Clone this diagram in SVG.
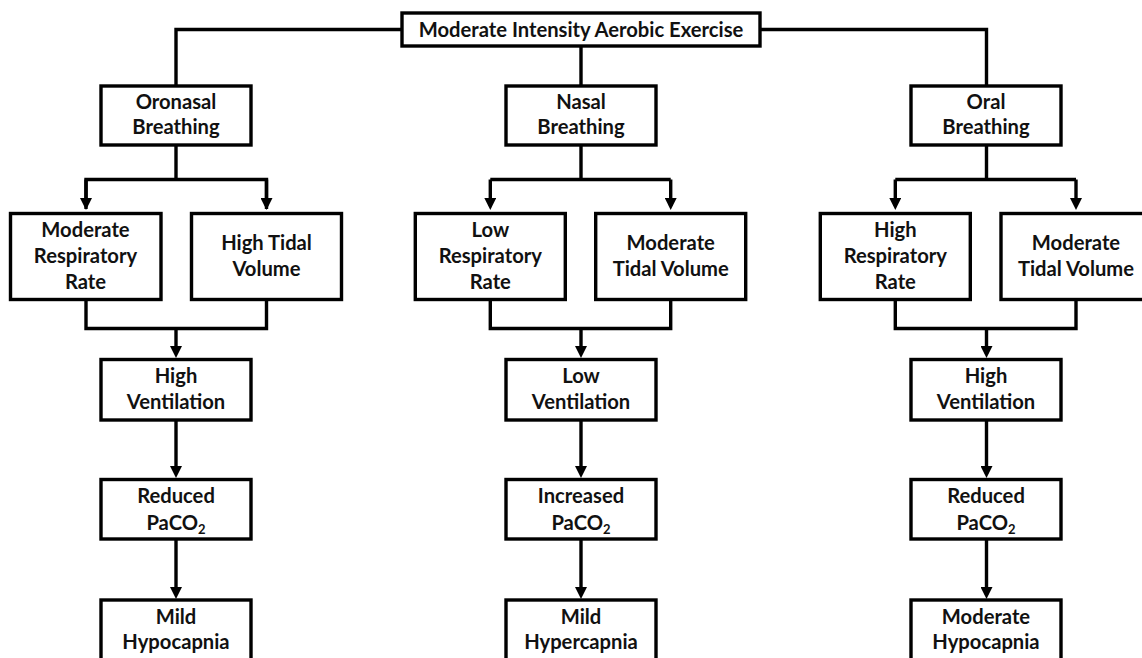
<svg xmlns="http://www.w3.org/2000/svg" width="1142" height="658" viewBox="0 0 1142 658">
<defs>
<marker id="ah" markerUnits="userSpaceOnUse" markerWidth="12" markerHeight="12" refX="8" refY="6" orient="auto"><path d="M0,0 L12,6 L0,12 z" fill="#000"/></marker>
<style>
.box{fill:#fff;stroke:#000;stroke-width:3.4}
.c{fill:none;stroke:#000;stroke-width:3.4}
.a{fill:none;stroke:#000;stroke-width:3.4;marker-end:url(#ah)}
text{font-family:Lato,"Open Sans",sans-serif;font-weight:bold;font-size:20.2px;fill:#111;text-anchor:middle}
.sub{font-size:13px}
</style>
</defs>
<rect width="1142" height="658" fill="#fff"/>
<g id="connectors">
<path class="c" d="M176,86 V29.5 H402 M760,29.5 H986.5 V86 M581,46 V86"/>
<path class="c" d="M176,145 V179.5 M86,209 V179.5 H266.5 V209"/>
<path class="a" d="M86,179.5 V206"/>
<path class="a" d="M266.5,179.5 V206"/>
<path class="c" d="M581,145 V179.5 M490.3,179.5 H670.7"/>
<path class="a" d="M490.3,179.5 V206"/>
<path class="a" d="M670.7,179.5 V206"/>
<path class="c" d="M986.5,145 V179.5 M895.3,179.5 H1076"/>
<path class="a" d="M895.3,179.5 V206"/>
<path class="a" d="M1076,179.5 V206"/>
<path class="c" d="M86,299 V328.5 H266.5 V299"/>
<path class="a" d="M176,328.5 V354"/>
<path class="c" d="M490.3,299 V328.5 H670.7 V299"/>
<path class="a" d="M581,328.5 V354"/>
<path class="c" d="M895.3,299 V328.5 H1076 V299"/>
<path class="a" d="M986.5,328.5 V354"/>
<path class="a" d="M176,420 V474"/>
<path class="a" d="M581,420 V474"/>
<path class="a" d="M986.5,420 V474"/>
<path class="a" d="M176,539 V595"/>
<path class="a" d="M581,539 V595"/>
<path class="a" d="M986.5,539 V595"/>
</g>
<g id="top"><rect class="box" x="402" y="13" width="358" height="33"/><text x="581" y="36.5">Moderate Intensity Aerobic Exercise</text></g>
<g id="oronasal"><rect class="box" x="101" y="86" width="150" height="59"/><text x="176" y="109">Oronasal</text><text x="176" y="134">Breathing</text></g>
<g id="nasal"><rect class="box" x="506" y="86" width="150" height="59"/><text x="581" y="109">Nasal</text><text x="581" y="134">Breathing</text></g>
<g id="oral"><rect class="box" x="911" y="86" width="150" height="59"/><text x="986" y="109">Oral</text><text x="986" y="134">Breathing</text></g>
<g id="l-rr"><rect class="box" x="10.5" y="213.5" width="150.5" height="86"/><text x="85.5" y="237">Moderate</text><text x="85.5" y="263">Respiratory</text><text x="85.5" y="289">Rate</text></g>
<g id="l-tv"><rect class="box" x="191.5" y="213.5" width="150" height="86"/><text x="266.5" y="250">High Tidal</text><text x="266.5" y="276">Volume</text></g>
<g id="m-rr"><rect class="box" x="415.3" y="213.5" width="150" height="86"/><text x="490.3" y="237">Low</text><text x="490.3" y="263">Respiratory</text><text x="490.3" y="289">Rate</text></g>
<g id="m-tv"><rect class="box" x="595.7" y="213.5" width="150" height="86"/><text x="670.7" y="250">Moderate</text><text x="670.7" y="276">Tidal Volume</text></g>
<g id="r-rr"><rect class="box" x="820.3" y="213.5" width="150" height="86"/><text x="895.3" y="237">High</text><text x="895.3" y="263">Respiratory</text><text x="895.3" y="289">Rate</text></g>
<g id="r-tv"><rect class="box" x="1001" y="213.5" width="150" height="86"/><text x="1076" y="250">Moderate</text><text x="1076" y="276">Tidal Volume</text></g>
<g id="l-vent"><rect class="box" x="101" y="359.5" width="150" height="60.5"/><text x="176" y="383">High</text><text x="176" y="409">Ventilation</text></g>
<g id="m-vent"><rect class="box" x="506" y="359.5" width="150" height="60.5"/><text x="581" y="383">Low</text><text x="581" y="409">Ventilation</text></g>
<g id="r-vent"><rect class="box" x="911" y="359.5" width="150" height="60.5"/><text x="986" y="383">High</text><text x="986" y="409">Ventilation</text></g>
<g id="l-paco2"><rect class="box" x="101" y="479.5" width="150" height="59.5"/><text x="176" y="503">Reduced</text><text x="176" y="530">PaCO<tspan class="sub" dy="4">2</tspan></text></g>
<g id="m-paco2"><rect class="box" x="506" y="479.5" width="150" height="59.5"/><text x="581" y="503">Increased</text><text x="581" y="530">PaCO<tspan class="sub" dy="4">2</tspan></text></g>
<g id="r-paco2"><rect class="box" x="911" y="479.5" width="150" height="59.5"/><text x="986" y="503">Reduced</text><text x="986" y="530">PaCO<tspan class="sub" dy="4">2</tspan></text></g>
<g id="l-out"><rect class="box" x="101" y="600" width="150" height="70"/><text x="176" y="624">Mild</text><text x="176" y="649">Hypocapnia</text></g>
<g id="m-out"><rect class="box" x="506" y="600" width="150" height="70"/><text x="581" y="624">Mild</text><text x="581" y="649">Hypercapnia</text></g>
<g id="r-out"><rect class="box" x="911" y="600" width="150" height="70"/><text x="986" y="624">Moderate</text><text x="986" y="649">Hypocapnia</text></g>
</svg>
